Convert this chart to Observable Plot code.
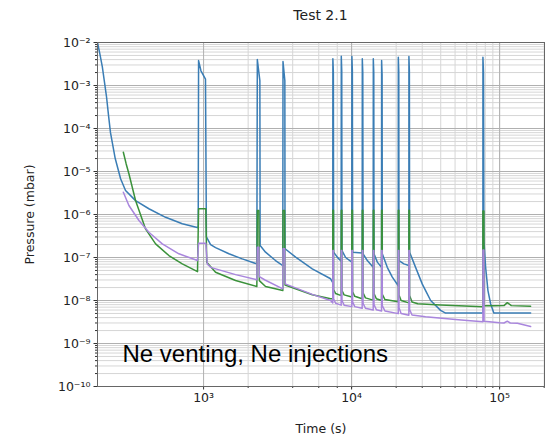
<!DOCTYPE html>
<html><head><meta charset="utf-8">
<script src="https://cdn.jsdelivr.net/npm/d3@7"></script>
<script src="https://cdn.jsdelivr.net/npm/@observablehq/plot@0.6"></script>
<style>
body{margin:0;background:#fff;}
#title{width:557px;height:30px;box-sizing:border-box;padding-left:97px;padding-right:13px;text-align:center;font:14px "DejaVu Sans";line-height:30px;color:#222}
</style></head><body>
<div id="title">Test 2.1</div>
<div id="chart"></div>
<script>
// [time (s), pressure (mbar)]
const blueSeries = [
[192,1.0e-2],[199,5.5e-3],[207,2.7e-3],[214,1.2e-3],[221,5.4e-4],[228,2.0e-4],[235,8.0e-5],[253,2.0e-5],[275,6.8e-6],[297,3.6e-6],[347,2.1e-6],[427,1.36e-6],[554,8.6e-7],[718,6.1e-7],[920,4.9e-7],
[925,3.8e-3],[960,2.2e-3],[1030,1.4e-3],[1045,3.0e-7],[1115,2.0e-7],[1205,1.7e-7],[1483,1.22e-7],[1826,9.3e-8],[2290,7.1e-8],
[2307,4.0e-3],[2400,1.3e-3],[2410,1.9e-7],[2622,1.33e-7],[3062,8.5e-8],[3430,6.5e-8],
[3440,3.6e-3],[3540,1.3e-3],[3550,1.6e-7],[4188,1.02e-7],[5424,5.45e-8],[7214,3.2e-8],[7460,2.6e-8],
[7473,4.2e-3],[7530,2.0e-3],[7560,1.33e-7],[8000,1.02e-7],[8500,8.2e-8],
[8518,4.8e-3],[8580,2.2e-3],[8610,1.45e-7],[9110,1.0e-7],[10030,7.8e-8],
[10046,4.7e-3],[10120,2.2e-3],[10160,1.33e-7],[11790,1.28e-7],
[11810,4.2e-3],[11900,2.0e-3],[11950,1.22e-7],[12770,8.5e-8],[13990,5.9e-8],
[14015,4.2e-3],[14120,2.0e-3],[14170,1.22e-7],[14920,7.8e-8],[15930,5.9e-8],
[15950,3.8e-3],[16070,1.8e-3],[16120,1.22e-7],[17420,5.9e-8],[18840,3.5e-8],[20660,2.2e-8],
[20680,4.55e-3],[20830,2.1e-3],[20900,8.5e-8],[22560,7.1e-8],[24370,6.5e-8],
[24390,4.7e-3],[24570,2.1e-3],[24650,1.33e-7],[27060,5.9e-8],[30040,2.4e-8],[31620,1.7e-8],[34200,1.0e-8],[39900,5.9e-9],[43150,5.1e-9],[77100,5.1e-9],
[77140,4.55e-3],[77800,2.0e-3],[78300,2.5e-7],[80400,6.0e-8],[83400,1.7e-8],[86900,8.4e-9],[91400,5.1e-9],[162000,5.1e-9]
];
const greenSeries = [
[287,2.8e-5],[300,1.5e-5],[313,8.85e-6],[347,2.12e-6],[405,4.65e-7],[474,2.08e-7],[583,1.11e-7],[718,7.1e-8],[910,4.7e-8],
[925,1.36e-6],[1035,1.36e-6],[1050,7.8e-8],[1205,4.55e-8],[1645,2.92e-8],[2290,2.12e-8],
[2307,1.24e-6],[2363,1.24e-6],[2380,2.9e-8],[2622,2.12e-8],[3430,1.71e-8],
[3440,1.24e-6],[3530,1.24e-6],[3550,2.3e-8],[5424,1.36e-8],[7214,1.1e-8],[7460,1.1e-8],
[7473,1.25e-6],[7540,1.25e-6],[7560,1.8e-8],[7800,1.45e-8],[8500,1.3e-8],
[8518,1.25e-6],[8590,1.25e-6],[8610,1.7e-8],[8900,1.35e-8],[10030,1.2e-8],
[10046,1.25e-6],[10130,1.25e-6],[10160,1.6e-8],[10500,1.25e-8],[11790,1.1e-8],
[11810,1.25e-6],[11910,1.25e-6],[11950,1.5e-8],[12400,1.15e-8],[13990,1.02e-8],
[14015,1.25e-6],[14130,1.25e-6],[14170,1.45e-8],[14700,1.1e-8],[15930,1.0e-8],
[15950,1.25e-6],[16080,1.25e-6],[16120,1.4e-8],[16800,1.05e-8],[20660,9.3e-9],
[20680,1.25e-6],[20850,1.25e-6],[20900,1.35e-8],[21600,1.0e-8],[24370,8.8e-9],
[24390,1.25e-6],[24590,1.25e-6],[24650,1.3e-8],[25600,9.2e-9],[28000,8.4e-9],[39900,7.9e-9],[77100,7.2e-9],
[77140,1.2e-6],[78300,1.2e-6],[78500,7.5e-9],[91400,7.5e-9],[107000,7.6e-9],[112700,8.9e-9],[120000,7.6e-9],[162000,7.36e-9]
];
const purpleSeries = [
[287,3.3e-6],[313,1.62e-6],[366,7.25e-7],[427,3.87e-7],[526,2.08e-7],[681,1.22e-7],[910,8.5e-8],
[925,2.15e-7],[1035,2.15e-7],[1060,7.0e-8],[1086,6.5e-8],[1115,5.9e-8],[1645,4.0e-8],[2290,3.03e-8],
[2307,1.74e-7],[2363,1.74e-7],[2380,3.6e-8],[2600,3.0e-8],[3430,1.87e-8],
[3440,1.6e-7],[3530,1.6e-7],[3560,2.44e-8],[5424,1.39e-8],[7214,1.0e-8],[7460,8.8e-9],
[7473,1.45e-7],[7540,1.45e-7],[7560,1.1e-8],[7800,8.6e-9],[8500,7.8e-9],
[8518,1.45e-7],[8590,1.45e-7],[8610,1.0e-8],[8900,7.8e-9],[10030,7.2e-9],
[10046,1.45e-7],[10130,1.45e-7],[10160,9.3e-9],[10500,7.2e-9],[11790,6.6e-9],
[11810,1.45e-7],[11910,1.45e-7],[11950,8.6e-9],[12400,6.6e-9],[13990,6.0e-9],
[14015,1.45e-7],[14130,1.45e-7],[14170,8.0e-9],[14700,6.1e-9],[15930,5.7e-9],
[15950,1.45e-7],[16080,1.45e-7],[16120,7.6e-9],[16800,5.7e-9],[20660,4.95e-9],
[20680,1.45e-7],[20850,1.45e-7],[20900,6.8e-9],[21600,5.0e-9],[24370,4.55e-9],
[24390,1.45e-7],[24590,1.45e-7],[24650,6.2e-9],[25600,4.6e-9],[31600,4.2e-9],[39000,3.9e-9],[55000,3.5e-9],[77100,3.2e-9],
[77140,1.5e-7],[78300,1.5e-7],[78500,3.3e-9],[100000,3.05e-9],[107000,3.0e-9],[112700,3.3e-9],[118000,3.0e-9],[131900,2.97e-9],[162000,2.48e-9]
];
const xTicks = [1e3, 1e4, 1e5];
const yTicks = [1e-2, 1e-3, 1e-4, 1e-5, 1e-6, 1e-7, 1e-8, 1e-9, 1e-10];
const xDomain = [192, 201000];
const yDomain = [1e-10, 1e-2];
const annotation = ["Ne venting, Ne injections"];

const sup = {"-":"\u207B","0":"\u2070","1":"\u00B9","2":"\u00B2","3":"\u00B3","4":"\u2074","5":"\u2075","6":"\u2076","7":"\u2077","8":"\u2078","9":"\u2079"};
const fmtPow = v => "10" + String(Math.round(Math.log10(v))).split("").map(c => sup[c]).join("");
// minor ticks: 1..9 x 10^k only
const isDecadeMultiple = v => {
  const m = v / Math.pow(10, Math.floor(Math.log10(v) + 1e-9));
  return Math.abs(m - Math.round(m)) < 1e-6;
};
const minorX = d3.scaleLog().domain(xDomain).ticks(100).filter(isDecadeMultiple);
const minorY = d3.scaleLog().domain(yDomain).ticks(100).filter(isDecadeMultiple);

const chart = Plot.plot({
  width: 557, height: 409,
  marginLeft: 97, marginRight: 13, marginTop: 12, marginBottom: 53,
  style: {fontFamily: "DejaVu Sans", fontSize: "12px", color: "#222", background: "#fff"},
  x: {type: "log", domain: xDomain},
  y: {type: "log", domain: yDomain},
  marks: [
    Plot.gridX(minorX, {stroke: "#d6d6d6", strokeOpacity: 1}),
    Plot.gridY(minorY, {stroke: "#d6d6d6", strokeOpacity: 1}),
    Plot.gridX(xTicks, {stroke: "#b0b0b0", strokeOpacity: 1}),
    Plot.gridY(yTicks, {stroke: "#b0b0b0", strokeOpacity: 1}),
    Plot.line(blueSeries, {x: d => d[0], y: d => d[1], stroke: "#3a7db5", strokeWidth: 1.5, clip: true}),
    Plot.line(greenSeries, {x: d => d[0], y: d => d[1], stroke: "#3a913a", strokeWidth: 1.5, clip: true}),
    Plot.line(purpleSeries, {x: d => d[0], y: d => d[1], stroke: "#a986dd", strokeWidth: 1.5, clip: true}),
    Plot.axisX(minorX, {tickSize: 2, fill: "none", stroke: "#333"}),
    Plot.axisY(minorY, {tickSize: 2, fill: "none", stroke: "#333"}),
    Plot.axisX(xTicks, {tickSize: 3.5, tickPadding: 3.5, tickFormat: fmtPow, stroke: "#333", fontSize: 12.5,
      label: "Time (s)", labelAnchor: "center", labelArrow: "none", labelOffset: 46}),
    Plot.axisY(yTicks, {tickSize: 3.5, tickPadding: 3.5, tickFormat: fmtPow, stroke: "#333", fontSize: 12.5,
      label: "Pressure (mbar)", labelAnchor: "center", labelArrow: "none", labelOffset: 72}),
    Plot.frame({stroke: "#666"}),
    Plot.text(annotation, {text: d => d, frameAnchor: "bottom-left", dx: 25, dy: -32, textAnchor: "start",
      lineAnchor: "middle", fontSize: 24, fontFamily: "Liberation Sans", fill: "#000"})
  ]
});
document.getElementById("chart").appendChild(chart);
</script>
</body></html>
